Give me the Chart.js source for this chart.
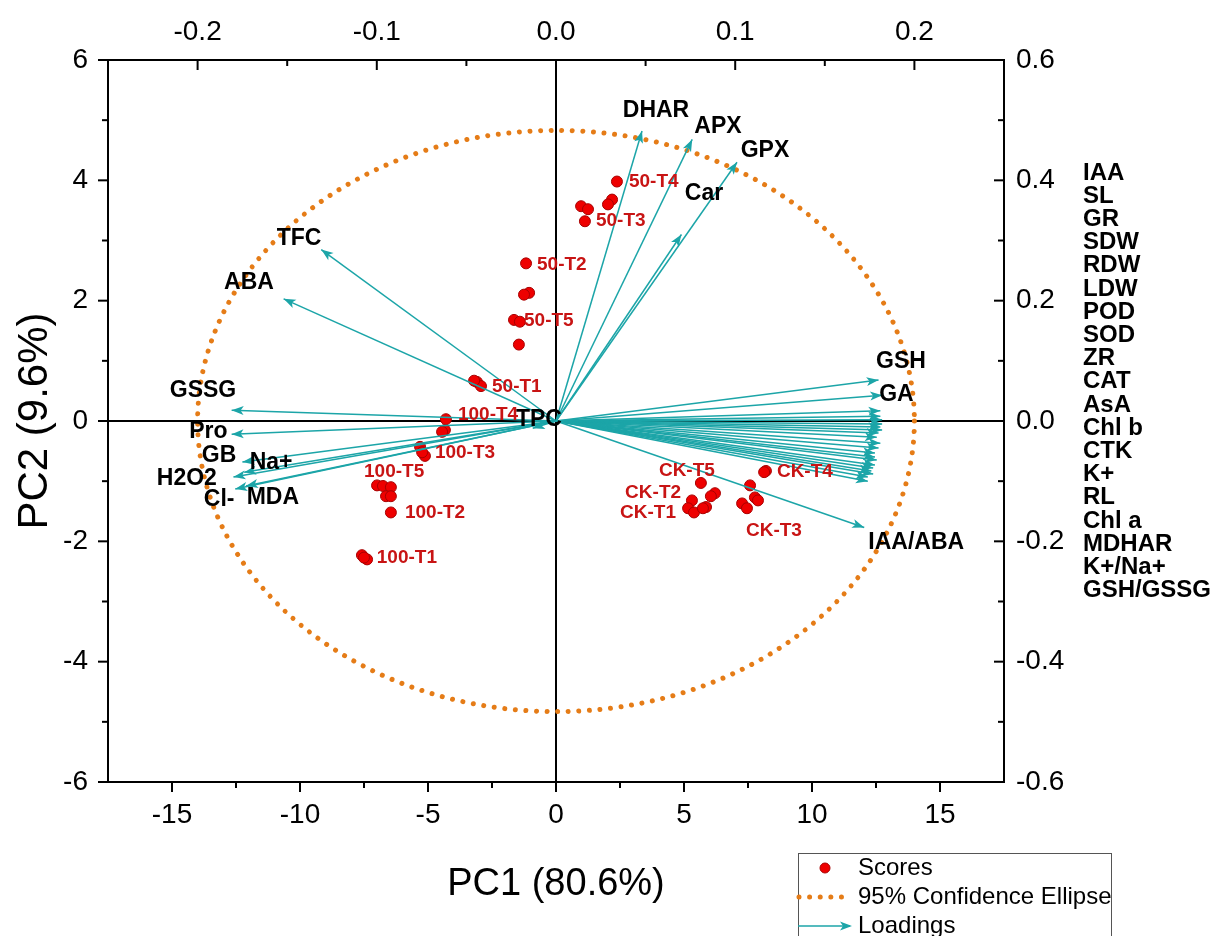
<!DOCTYPE html>
<html>
<head>
<meta charset="utf-8">
<title>PCA biplot</title>
<script src="https://cdn.jsdelivr.net/npm/chart.js@4.4.1/dist/chart.umd.min.js"></script>
<style>
  html, body { margin: 0; padding: 0; background: #fff; }
  #wrap { position: relative; width: 1212px; height: 936px; overflow: hidden; }
</style>
</head>
<body>
<div id="wrap"><canvas id="biplot" width="1212" height="936"></canvas></div>
<script>
// PCA biplot: scores (PC1/PC2) on bottom/left axes, loadings on top/right axes
const FONT = '"Liberation Sans", Arial, Helvetica, sans-serif';
const TEAL = '#1ca5a8';
const RED = '#c81414';

// axis ticks
const xTicks = [-15, -10, -5, 0, 5, 10, 15];
const yTicks = [-6, -4, -2, 0, 2, 4, 6];
const topTicks = [-0.2, -0.1, 0, 0.1, 0.2];
const rightTicks = [-0.6, -0.4, -0.2, 0, 0.2, 0.4, 0.6];

// sample scores (3 replicates per treatment)
const scoreX = [2.38, 2.19, 2.03, 0.98, 1.25, 1.13,
  -1.17, -1.05, -1.25, -1.64, -1.41, -1.45,
  -3.09, -2.93, -3.2,
  -4.30, -4.34, -4.45,
  -5.31, -5.12, -5.23,
  -6.99, -6.76, -6.45, -6.64, -6.45, -6.45,
  -7.58, -7.38, -7.5,
  8.20, 8.13, 5.66, 7.58, 6.21, 6.05, 5.31, 7.77, 7.89, 5.86, 7.27, 7.46, 5.16, 5.39, 5.74];
const scoreY = [3.98, 3.68, 3.60, 3.57, 3.52, 3.32,
  2.62, 2.13, 2.10, 1.68, 1.65, 1.27,
  0.65, 0.58, 0.67,
  0.03, -0.15, -0.18,
  -0.43, -0.58, -0.52,
  -1.07, -1.08, -1.10, -1.25, -1.25, -1.52,
  -2.23, -2.30, -2.27,
  -0.83, -0.85, -1.03, -1.07, -1.20, -1.25, -1.32, -1.27, -1.32, -1.43, -1.37, -1.45, -1.45, -1.52, -1.45];
const groupNames = ['50-T4', '50-T3', '50-T2', '50-T5', '50-T1', '100-T4', '100-T3', '100-T5',
  '100-T2', '100-T1', 'CK-T5', 'CK-T4', 'CK-T2', 'CK-T1', 'CK-T3'];

// 95% confidence ellipse of the scores
const ellipseCx = 0, ellipseCy = 0, ellipseRx = 14.0, ellipseRy = 4.83;

// variable loadings
const loadNames = ['DHAR', 'APX', 'GPX', 'Car', 'TFC', 'ABA', 'GSSG', 'Pro', 'GB', 'Na+', 'H2O2', 'Cl-', 'MDA',
  'TPC', 'GSH', 'GA', 'IAA/ABA',
  'IAA', 'SL', 'GR', 'SDW', 'RDW', 'LDW', 'POD', 'SOD', 'ZR', 'CAT', 'AsA', 'Chl b', 'CTK', 'K+', 'RL',
  'Chl a', 'MDHAR', 'K+/Na+', 'GSH/GSSG'];
const loadX = [0.048, 0.076, 0.101, 0.070, -0.131, -0.152, -0.181, -0.181, -0.175, -0.174, -0.180, -0.179, -0.173,
  -0.013, 0.180, 0.182, 0.172,
  0.181, 0.181, 0.182, 0.182, 0.181, 0.182, 0.180, 0.179, 0.181, 0.180, 0.178, 0.178, 0.179, 0.178, 0.177,
  0.176, 0.177, 0.174, 0.174];
const loadY = [0.482, 0.468, 0.430, 0.310, 0.285, 0.203, 0.018, -0.022, -0.068, -0.085, -0.093, -0.113, -0.108,
  -0.012, 0.068, 0.043, -0.177,
  0.017, 0.008, 0.002, -0.005, -0.010, -0.015, -0.020, -0.027, -0.037, -0.045, -0.053, -0.060, -0.065, -0.073,
  -0.078, -0.083, -0.088, -0.093, -0.100];

// ---- layout of annotations (not data) ----
// score group labels: left edge, in PC units
const groupSpots = {
  '50-T4': [2.85, 3.97], '50-T3': [1.56, 3.32], '50-T2': [-0.74, 2.60], '50-T5': [-1.25, 1.67],
  '50-T1': [-2.5, 0.57], '100-T4': [-3.83, 0.10], '100-T3': [-4.73, -0.53], '100-T5': [-7.5, -0.85],
  '100-T2': [-5.9, -1.52], '100-T1': [-7.0, -2.27], 'CK-T5': [4.02, -0.83], 'CK-T4': [8.63, -0.85],
  'CK-T2': [2.70, -1.20], 'CK-T1': [2.5, -1.53], 'CK-T3': [7.42, -1.83]
};
// loading labels next to arrows: text centre, in loading units
const loadSpots = {
  'DHAR': [0.0558, 0.515], 'APX': [0.0904, 0.49], 'GPX': [0.1166, 0.45], 'Car': [0.0826, 0.378],
  'TFC': [-0.1434, 0.303], 'ABA': [-0.1713, 0.23], 'GSSG': [-0.197, 0.05], 'Pro': [-0.194, -0.018],
  'GB': [-0.188, -0.057], 'Na+': [-0.159, -0.069], 'H2O2': [-0.206, -0.095], 'Cl-': [-0.188, -0.13],
  'MDA': [-0.158, -0.127], 'TPC': [-0.0095, 0.002], 'GSH': [0.1925, 0.098], 'GA': [0.19, 0.043],
  'IAA/ABA': [0.201, -0.202]
};

function fixedTicks(vals) {
  return scale => { scale.ticks = vals.map(v => ({ value: v })); };
}
function oneDec(v) { return (Math.abs(v) < 1e-9 ? 0 : v).toFixed(1); }
const zeroLine = c => (c.tick && Math.abs(c.tick.value) < 1e-9) ? '#000' : 'rgba(0,0,0,0)';
const tickFont = { family: FONT, size: 28 };
const frame = { display: true, color: '#000', width: 2 };

function arrowHead(ctx, x0, y0, x1, y1, len, half) {
  const a = Math.atan2(y1 - y0, x1 - x0);
  const c = Math.cos(a), s = Math.sin(a);
  ctx.beginPath();
  ctx.moveTo(x1, y1);
  ctx.lineTo(x1 - len * c - half * s, y1 - len * s + half * c);
  ctx.lineTo(x1 - len * 0.75 * c, y1 - len * 0.75 * s);
  ctx.lineTo(x1 - len * c + half * s, y1 - len * s - half * c);
  ctx.closePath();
  ctx.fill();
}

function dottedPath(ctx) {
  ctx.setLineDash([0.01, 10.6]);
  ctx.lineCap = 'round';
  ctx.lineWidth = 5;
  ctx.strokeStyle = '#e57c17';
}

const decor = {
  id: 'decor',
  beforeDatasetsDraw(chart) {
    const { ctx, scales: { x, y } } = chart;
    const cx = x.getPixelForValue(ellipseCx), cy = y.getPixelForValue(ellipseCy);
    const rx = x.getPixelForValue(ellipseCx + ellipseRx) - cx;
    const ry = cy - y.getPixelForValue(ellipseCy + ellipseRy);
    ctx.save();
    dottedPath(ctx);
    ctx.beginPath();
    ctx.ellipse(cx, cy, rx, ry, 0, 0, Math.PI * 2);
    ctx.stroke();
    ctx.restore();
  },
  afterDatasetsDraw(chart) {
    const { ctx, scales: { x, y, x2, y2 } } = chart;
    const ox = x2.getPixelForValue(0), oy = y2.getPixelForValue(0);
    ctx.save();
    ctx.fillStyle = TEAL;
    loadNames.forEach((n, i) => {
      arrowHead(ctx, ox, oy, x2.getPixelForValue(loadX[i]), y2.getPixelForValue(loadY[i]), 12, 4.5);
    });
    // loading labels
    ctx.fillStyle = '#000';
    ctx.font = 'bold 23px ' + FONT;
    ctx.textAlign = 'center';
    ctx.textBaseline = 'middle';
    Object.keys(loadSpots).forEach(n => {
      const p = loadSpots[n];
      ctx.fillText(n, x2.getPixelForValue(p[0]), y2.getPixelForValue(p[1]));
    });
    // score group labels
    ctx.fillStyle = RED;
    ctx.font = 'bold 19px ' + FONT;
    ctx.textAlign = 'left';
    groupNames.forEach(n => {
      const p = groupSpots[n];
      ctx.fillText(n, x.getPixelForValue(p[0]), y.getPixelForValue(p[1]));
    });
    ctx.restore();
  },
  afterDraw(chart) {
    const { ctx, chartArea: ca, scales: { x, y, x2, y2 } } = chart;
    ctx.save();
    ctx.strokeStyle = '#000';
    ctx.lineWidth = 2;
    const mids = vals => vals.slice(1).map((v, i) => (v + vals[i]) / 2)
      .concat([vals[0] - (vals[1] - vals[0]) / 2, vals[vals.length - 1] + (vals[1] - vals[0]) / 2]);
    const tick = (x0, y0, x1, y1) => { ctx.beginPath(); ctx.moveTo(x0, y0); ctx.lineTo(x1, y1); ctx.stroke(); };
    // bottom: outward; left: outward; top: inward; right: inward
    xTicks.forEach(v => { const p = x.getPixelForValue(v); tick(p, ca.bottom, p, ca.bottom + 10); });
    mids(xTicks).forEach(v => { const p = x.getPixelForValue(v); if (p > ca.left && p < ca.right) tick(p, ca.bottom, p, ca.bottom + 6); });
    yTicks.forEach(v => { const p = y.getPixelForValue(v); tick(ca.left, p, ca.left - 10, p); });
    mids(yTicks).forEach(v => { const p = y.getPixelForValue(v); if (p > ca.top && p < ca.bottom) tick(ca.left, p, ca.left - 6, p); });
    topTicks.forEach(v => { const p = x2.getPixelForValue(v); tick(p, ca.top, p, ca.top + 10); });
    mids(topTicks).forEach(v => { const p = x2.getPixelForValue(v); if (p > ca.left && p < ca.right) tick(p, ca.top, p, ca.top + 6); });
    rightTicks.forEach(v => { const p = y2.getPixelForValue(v); tick(ca.right, p, ca.right - 10, p); });
    mids(rightTicks).forEach(v => { const p = y2.getPixelForValue(v); if (p > ca.top && p < ca.bottom) tick(ca.right, p, ca.right - 6, p); });

    // axis titles
    ctx.fillStyle = '#000';
    ctx.font = '38px ' + FONT;
    ctx.textAlign = 'center';
    ctx.textBaseline = 'middle';
    ctx.fillText('PC1 (80.6%)', (ca.left + ca.right) / 2, 885);
    ctx.save();
    ctx.font = '42px ' + FONT;
    ctx.translate(35, (ca.top + ca.bottom) / 2);
    ctx.rotate(-Math.PI / 2);
    ctx.fillText('PC2 (9.6%)', 0, 0);
    ctx.restore();

    // variables whose arrows overlap on the right are listed instead
    ctx.font = 'bold 24px ' + FONT;
    ctx.textAlign = 'left';
    loadNames.filter(n => !loadSpots[n]).forEach((n, i) => {
      ctx.fillText(n, 1083, 173 + i * 23.2);
    });

    // legend
    ctx.lineWidth = 1;
    ctx.strokeStyle = '#555';
    ctx.strokeRect(798.5, 853.5, 313, 120);
    ctx.fillStyle = '#ee0000';
    ctx.strokeStyle = '#a80000';
    ctx.beginPath(); ctx.arc(825, 868, 5, 0, Math.PI * 2); ctx.fill(); ctx.stroke();
    ctx.save();
    dottedPath(ctx);
    ctx.beginPath(); ctx.moveTo(799, 897); ctx.lineTo(852, 897); ctx.stroke();
    ctx.restore();
    ctx.strokeStyle = TEAL; ctx.fillStyle = TEAL; ctx.lineWidth = 1.5;
    ctx.beginPath(); ctx.moveTo(798, 926); ctx.lineTo(850, 926); ctx.stroke();
    arrowHead(ctx, 798, 926, 852, 926, 12, 4.5);
    ctx.fillStyle = '#000';
    ctx.font = '24px ' + FONT;
    ctx.fillText('Scores', 858, 868);
    ctx.fillText('95% Confidence Ellipse', 858, 897);
    ctx.fillText('Loadings', 858, 926);
    ctx.restore();
  }
};

const datasets = [{
  label: 'Scores',
  data: scoreX.map((v, i) => ({ x: v, y: scoreY[i] })),
  xAxisID: 'x', yAxisID: 'y',
  showLine: false,
  pointRadius: 5.5,
  pointBackgroundColor: '#ee0000',
  pointBorderColor: '#a80000',
  pointBorderWidth: 1,
  order: 2
}];
loadNames.forEach((n, i) => {
  datasets.push({
    label: n,
    data: [{ x: 0, y: 0 }, { x: loadX[i], y: loadY[i] }],
    xAxisID: 'x2', yAxisID: 'y2',
    showLine: true,
    borderColor: TEAL,
    borderWidth: 1.5,
    pointRadius: 0,
    order: 1
  });
});

new Chart(document.getElementById('biplot'), {
  type: 'scatter',
  data: { datasets },
  options: {
    responsive: false,
    animation: false,
    devicePixelRatio: 1,
    layout: { padding: 0 },
    plugins: { legend: { display: false }, tooltip: { enabled: false } },
    scales: {
      x: {
        type: 'linear', position: 'bottom', min: -17.5, max: 17.5,
        afterBuildTicks: fixedTicks(xTicks),
        afterFit: s => { s.height = 154; },
        ticks: { font: tickFont, color: '#000', padding: 16, maxRotation: 0, autoSkip: false, callback: v => String(v) },
        grid: { drawTicks: false, color: zeroLine, lineWidth: 2 },
        border: frame
      },
      y: {
        type: 'linear', position: 'left', min: -6, max: 6,
        afterBuildTicks: fixedTicks(yTicks),
        afterFit: s => { s.width = 108; },
        ticks: { font: tickFont, color: '#000', padding: 20, autoSkip: false, callback: v => String(v) },
        grid: { drawTicks: false, color: zeroLine, lineWidth: 2 },
        border: frame
      },
      x2: {
        type: 'linear', position: 'top', min: -0.25, max: 0.25,
        afterBuildTicks: fixedTicks(topTicks),
        afterFit: s => { s.height = 60; },
        ticks: { font: tickFont, color: '#000', padding: 11, maxRotation: 0, autoSkip: false, callback: oneDec },
        grid: { drawTicks: false, drawOnChartArea: false },
        border: frame
      },
      y2: {
        type: 'linear', position: 'right', min: -0.6, max: 0.6,
        afterBuildTicks: fixedTicks(rightTicks),
        afterFit: s => { s.width = 208; },
        ticks: { font: tickFont, color: '#000', padding: 12, autoSkip: false, callback: oneDec },
        grid: { drawTicks: false, drawOnChartArea: false },
        border: frame
      }
    }
  },
  plugins: [decor]
});
</script>
</body>
</html>
